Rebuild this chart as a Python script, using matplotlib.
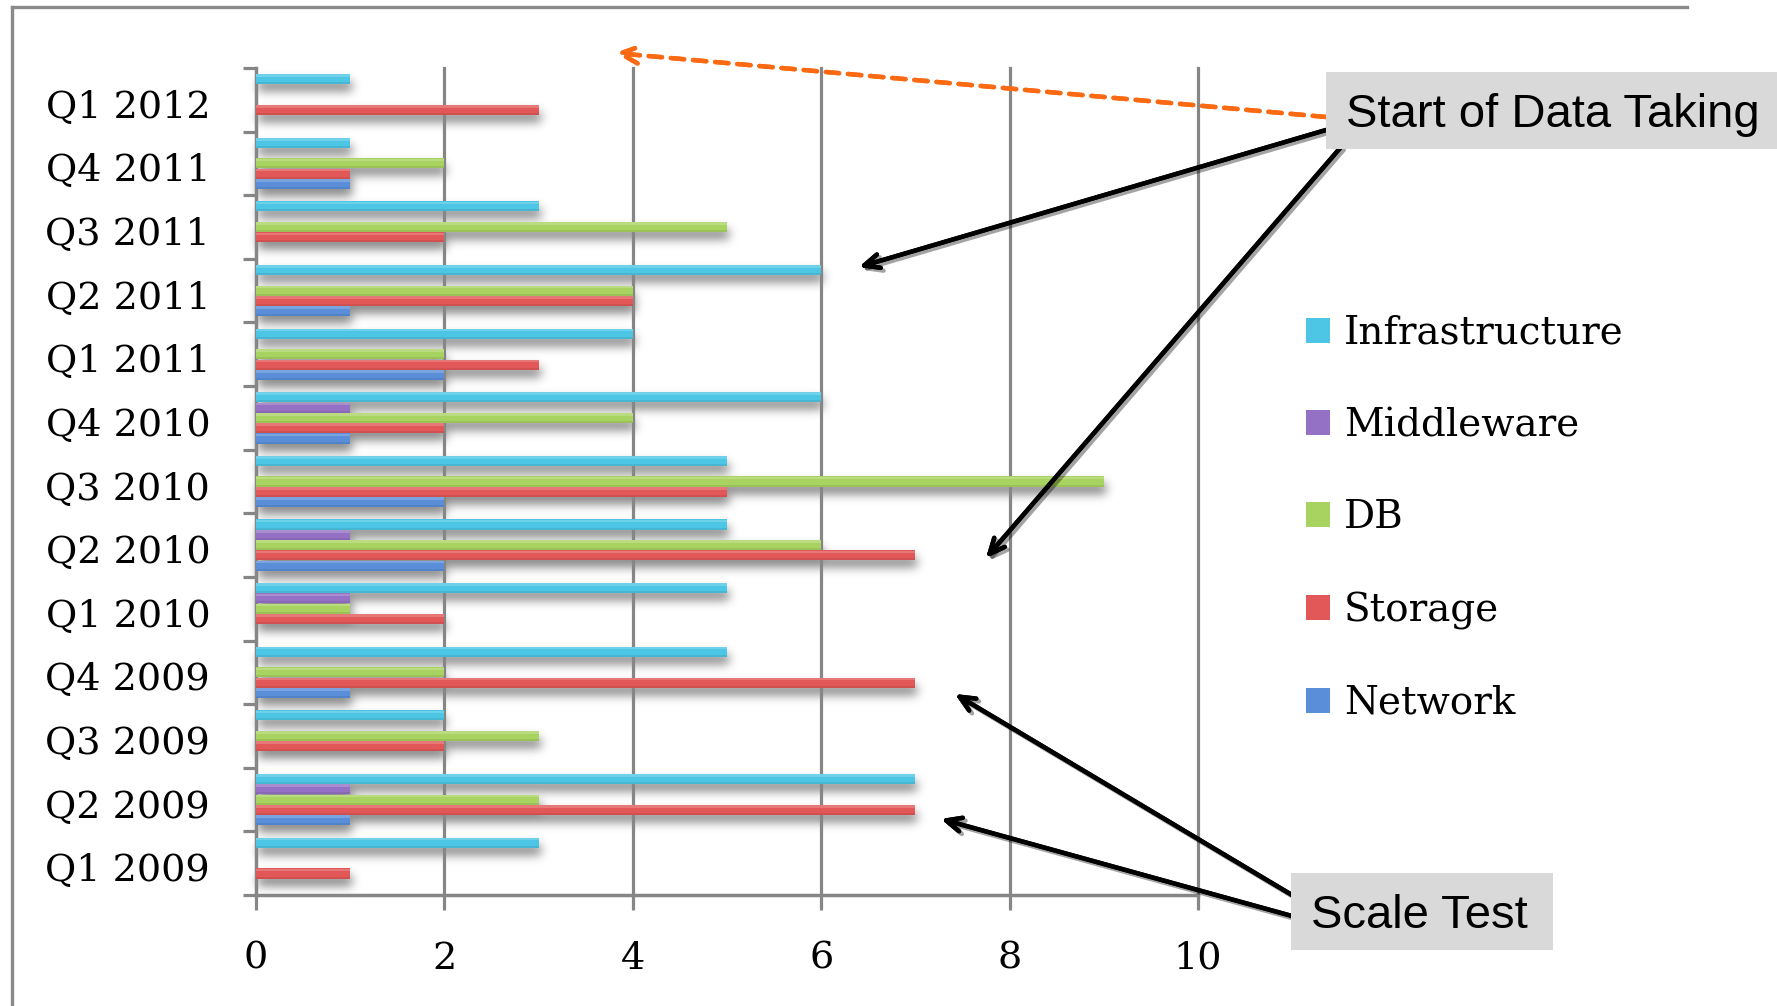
import numpy as np
import matplotlib
matplotlib.use('Agg')
import matplotlib.pyplot as plt
import matplotlib.patheffects as pe
import matplotlib.transforms as mtransforms
from matplotlib.patches import Rectangle, Patch
from matplotlib.lines import Line2D

# tickets per quarter and category
quarters = ['Q1 2009', 'Q2 2009', 'Q3 2009', 'Q4 2009',
            'Q1 2010', 'Q2 2010', 'Q3 2010', 'Q4 2010',
            'Q1 2011', 'Q2 2011', 'Q3 2011', 'Q4 2011', 'Q1 2012']
infrastructure = [3, 7, 2, 5, 5, 5, 5, 6, 4, 6, 3, 1, 1]
middleware     = [0, 1, 0, 0, 1, 1, 0, 1, 0, 0, 0, 0, 0]
db             = [0, 3, 3, 2, 1, 6, 9, 4, 2, 4, 5, 2, 0]
storage        = [1, 7, 2, 7, 2, 7, 5, 2, 3, 4, 2, 1, 3]
network        = [0, 1, 0, 1, 0, 2, 2, 1, 2, 1, 0, 1, 0]
xticks = [0, 2, 4, 6, 8, 10]

series = [('Infrastructure', infrastructure, '#4cc6e4'),
          ('Middleware', middleware, '#9471c4'),
          ('DB', db, '#a9d360'),
          ('Storage', storage, '#e25757'),
          ('Network', network, '#5a8ed8')]


def blur(a, sigma):
    r = int(3 * sigma)
    k = np.exp(-0.5 * (np.arange(-r, r + 1) / sigma) ** 2)
    k /= k.sum()
    a = np.apply_along_axis(lambda m: np.convolve(m, k, mode='same'), 0, a)
    a = np.apply_along_axis(lambda m: np.convolve(m, k, mode='same'), 1, a)
    return a


class DropShadow:
    # agg filter: blurred, darkened copy of the artist's alpha
    def __init__(self, sigma, alpha, dx, dy):
        self.sigma, self.alpha, self.dx, self.dy = sigma, alpha, dx, dy

    def __call__(self, im, dpi):
        pad = int(3 * self.sigma) + 2
        a = np.pad(im[:, :, 3], pad)
        out = np.zeros(a.shape + (4,))
        out[:, :, 3] = np.clip(blur(a, self.sigma) * self.alpha, 0, 1)
        return out, self.dx - pad, self.dy - pad


W, H = 1777, 1006
fig = plt.figure(figsize=(W / 100, H / 100), dpi=100)
ax = fig.add_axes([256 / W, 1 - 895 / H, (1198 - 256) / W, (895 - 68) / H])

gray = '#868686'
serif = 'DejaVu Serif'
y = np.arange(len(quarters))
slot = 0.162
bh = 0.158
shadow_filter = DropShadow(sigma=5, alpha=0.5, dx=2, dy=-7)

for k, (name, vals, col) in enumerate(series):
    yy = y + (2 - k) * slot
    v = np.array(vals, dtype=float)
    sh = ax.barh(yy, v, height=bh, color='#555555', linewidth=0, zorder=1)
    for p in sh:
        p.set_agg_filter(shadow_filter)
    ax.barh(yy, v, height=bh, color=col, linewidth=0, zorder=3)
    # lighter top edge, darker bottom edge
    ax.barh(yy + bh * 0.35, v, height=bh * 0.25, color='white', alpha=0.2,
            linewidth=0, zorder=4)
    ax.barh(yy - bh * 0.4, v, height=bh * 0.2, color='black', alpha=0.08,
            linewidth=0, zorder=4)

ax.set_xlim(0, 10)
ax.set_ylim(-0.5, len(quarters) - 0.5)
for xv in xticks[1:]:
    ax.axvline(xv, color=gray, lw=2.3, zorder=2, clip_on=False)

ax.set_xticks(xticks)
ax.set_xticklabels([str(t) for t in xticks], fontsize=27.5, family=serif)
ax.tick_params(axis='x', direction='out', length=11, width=2.3, color=gray,
               pad=22)

ax.set_yticks(y)
ax.set_yticklabels(quarters, fontsize=27.5, family=serif,
                   va='center_baseline')
ax.set_yticks(np.arange(-0.5, len(quarters)), minor=True)
ax.tick_params(axis='y', which='major', length=0, pad=33)
ax.tick_params(axis='y', which='minor', direction='out', length=9.5,
               width=2.3, color=gray)
down = mtransforms.ScaledTranslation(0, -4 / 100, fig.dpi_scale_trans)
for lab in ax.get_yticklabels():
    lab.set_transform(lab.get_transform() + down)

for s in ('top', 'right'):
    ax.spines[s].set_visible(False)
for s in ('left', 'bottom'):
    ax.spines[s].set_color(gray)
    ax.spines[s].set_linewidth(2.5)

handles = [Patch(facecolor=c, edgecolor='none', label=n) for n, _, c in series]
fig.legend(handles=handles, loc='upper left',
           bbox_to_anchor=(1306 / W, 1 - 315 / H), frameon=False,
           prop={'family': serif, 'size': 28}, handlelength=0.62,
           handleheight=0.62, handletextpad=0.35, labelspacing=1.42,
           borderpad=0, borderaxespad=0)

# outer frame
fig.add_artist(Line2D([12 / W, 12 / W], [0, 1 - 7 / H], color='#8a8a8a',
                      lw=2.4, transform=fig.transFigure))
fig.add_artist(Line2D([12 / W, 1687 / W], [1 - 7 / H, 1 - 7 / H],
                      color='#8a8a8a', lw=2.4, transform=fig.transFigure))

# callout boxes
fig.add_artist(Rectangle((1326 / W, 1 - 149 / H), (W - 1326) / W, 77 / H,
                         facecolor='#d9d9d9', edgecolor='none',
                         transform=fig.transFigure, zorder=5))
fig.text(1346 / W, 1 - 115 / H, 'Start of Data Taking', fontsize=34,
         family='Liberation Sans', va='center', ha='left', zorder=6)
fig.add_artist(Rectangle((1291 / W, 1 - 950 / H), 262 / W, 77 / H,
                         facecolor='#d9d9d9', edgecolor='none',
                         transform=fig.transFigure, zorder=5))
fig.text(1311 / W, 1 - 916 / H, 'Scale Test', fontsize=34,
         family='Liberation Sans', va='center', ha='left', zorder=6)

shadow = [pe.SimpleLineShadow(offset=(2, -2), shadow_color='k', alpha=0.2),
          pe.Normal()]


def arrow(x0, y0, x1, y1, fx=None, **kw):
    a = fig.add_artist(plt.annotate('', xy=(x1 / W, 1 - y1 / H),
                                    xytext=(x0 / W, 1 - y0 / H),
                                    xycoords='figure fraction',
                                    textcoords='figure fraction',
                                    annotation_clip=False, **kw))
    if fx:
        a.arrow_patch.set_path_effects(fx)


blk = dict(arrowstyle='->,head_length=1.1,head_width=0.5', color='black',
           lw=3.2, shrinkA=0, shrinkB=0)
arrow(1326, 130, 859, 267, shadow, arrowprops=blk)
arrow(1341, 147, 986, 558, shadow, arrowprops=blk)
arrow(1292, 895, 955, 694, shadow, arrowprops=blk)
arrow(1292, 916, 941, 819, shadow, arrowprops=blk)
arrow(1326, 117, 615, 53,
      arrowprops=dict(arrowstyle='->,head_length=1.3,head_width=0.6',
                      color='#fb6a12', lw=3.2, linestyle=(0, (3, 2)),
                      shrinkA=0, shrinkB=0))

fig.savefig('out.png', dpi=100)
